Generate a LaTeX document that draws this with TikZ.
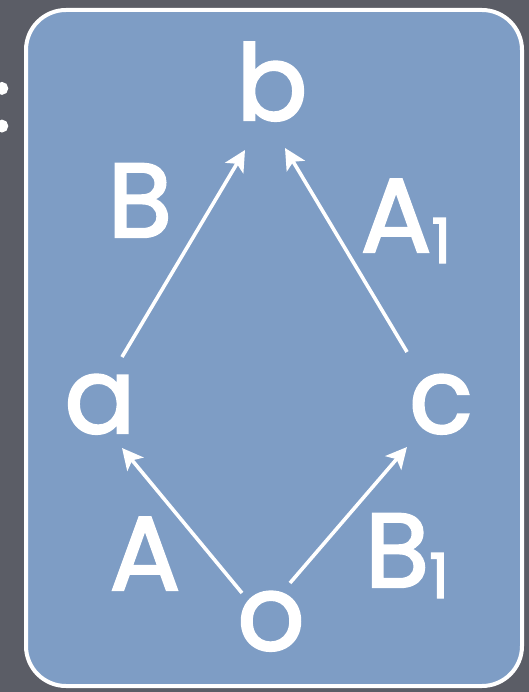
\documentclass[tikz,border=0pt]{standalone}
\usepackage{fontspec}
\newfontfamily\poppins[FakeBold=2.2]{Poppins}
\usetikzlibrary{arrows.meta}
\definecolor{slate}{RGB}{91,93,102}
\definecolor{panel}{RGB}{126,157,197}
\newcommand\subone{\raisebox{-11pt}{\fontsize{62}{62}\selectfont 1}}
\tikzset{
  lbl/.style={text=white, font=\poppins\fontsize{105}{105}\selectfont, inner sep=0pt, anchor=base},
  conn/.style={white, line width=3.6pt, -{Stealth[length=21pt,width=21pt,inset=5pt]}},
}
\begin{document}
\begin{tikzpicture}[x=1pt,y=-1pt]
\fill[slate] (0,0) rectangle (529,692);
\useasboundingbox (0,0) rectangle (529,692);
\draw[white, line width=4pt, fill=panel, rounded corners=40pt] (26,10) rectangle (522,686);
\node[lbl, font=\poppins\fontsize{88}{88}\selectfont] (colon) at (2,131) {:};
% vertices
\node[lbl] (b) at (272,120) {b};
\node[lbl] (a) at (100,433) {a};
\node[lbl] (c) at (441,433) {c};
\node[lbl] (o) at (271,650) {o};
% edge labels
\node[lbl] (lB) at (140,237) {B};
\node[lbl] (lA1) at (406,252) {A\subone};
\node[lbl] (lA) at (145,590) {A};
\node[lbl] (lB1) at (407,587) {B\subone};
% connector ends
\coordinate (ab0) at (122,357); \coordinate (ab1) at (245,150);
\coordinate (cb0) at (407,352); \coordinate (cb1) at (285,148);
\coordinate (oa0) at (242,593); \coordinate (oa1) at (122,448);
\coordinate (oc0) at (290,583); \coordinate (oc1) at (407,447);
\draw[conn] (ab0) -- (ab1);
\draw[conn] (cb0) -- (cb1);
\draw[conn] (oa0) -- (oa1);
\draw[conn] (oc0) -- (oc1);
\end{tikzpicture}
\end{document}
